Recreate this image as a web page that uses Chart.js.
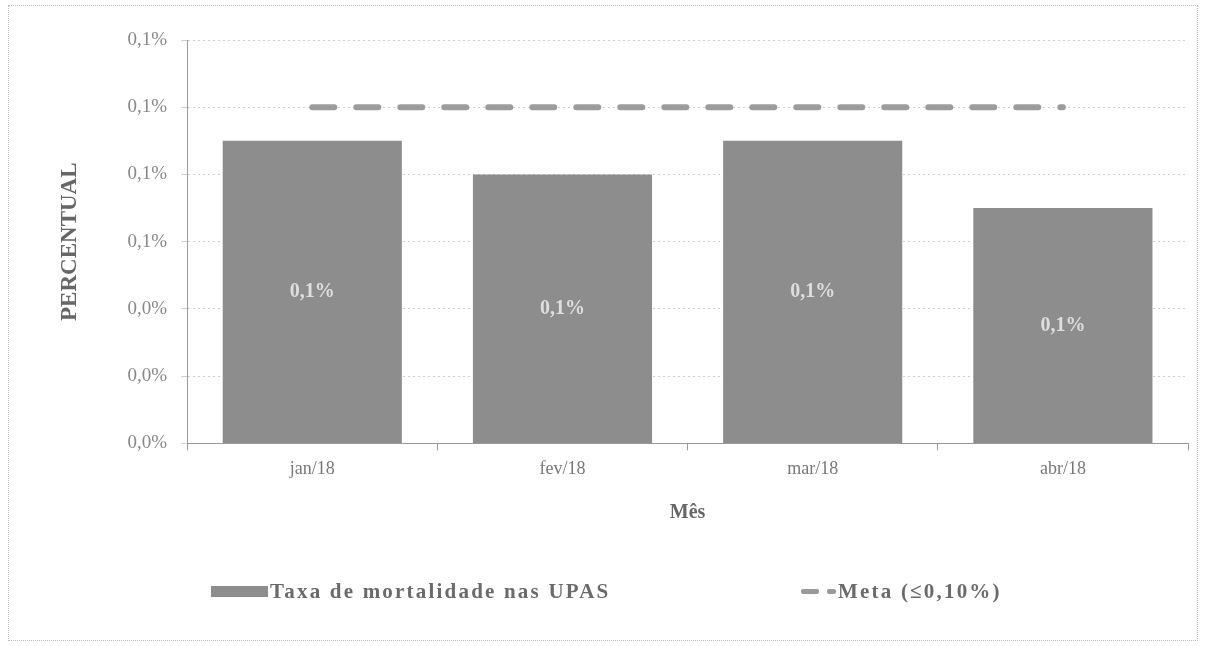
<!DOCTYPE html>
<html>
<head>
<meta charset="utf-8">
<script src="https://cdn.jsdelivr.net/npm/chart.js@4.4.1/dist/chart.umd.min.js"></script>
<style>
  html, body { margin: 0; padding: 0; background: #fff; }
  #wrap { position: relative; width: 1207px; height: 646px; }
  #frame { position: absolute; left: 8px; top: 5px; width: 1190px; height: 636px; border: 1px dotted #bbb; box-sizing: border-box; }
  #myChart { position: absolute; left: 0; top: 0; }
  .legend { position: absolute; top: 579px; font: bold 21px "Liberation Serif", serif; letter-spacing: 2.2px; color: #6a6a6a; display: flex; align-items: center; }
  .box { display: inline-block; width: 57px; height: 11px; background: #8d8d8d; margin-right: 2px; }
  .dash { display: inline-block; width: 18px; height: 5px; background: #9a9a9a; border-radius: 2px; margin-right: 8px; }
</style>
</head>
<body>
<div id="wrap">
  <div id="frame"></div>
  <canvas id="myChart" width="1207" height="646"></canvas>
  <div class="legend" style="left:211px"><span class="box"></span>Taxa de mortalidade nas UPAS</div>
  <div class="legend" style="left:801px"><span class="dash"></span><span class="dash" style="width:9px;margin-right:2px"></span>Meta (≤0,10%)</div>
</div>
<script>
const months = ["jan/18", "fev/18", "mar/18", "abr/18"];
const taxaMortalidade = [0.090, 0.080, 0.090, 0.070];
const meta = [0.10, 0.10, 0.10, 0.10];
const yTicks = [0, 0.02, 0.04, 0.06, 0.08, 0.10, 0.12];

function fmtPct(v) {
  return v.toFixed(1).replace(".", ",") + "%";
}

const barLabels = {
  id: "barLabels",
  afterDatasetsDraw(chart) {
    const ctx = chart.ctx;
    const bars = chart.getDatasetMeta(0);
    ctx.save();
    ctx.font = "bold 20px 'Liberation Serif', serif";
    ctx.fillStyle = "#dedede";
    ctx.textAlign = "center";
    ctx.textBaseline = "middle";
    bars.data.forEach((bar, i) => {
      const mid = (bar.y + bar.base) / 2;
      ctx.fillText(fmtPct(taxaMortalidade[i]), bar.x, mid);
    });
    ctx.restore();
  },
};

const ctx = document.getElementById("myChart");
new Chart(ctx, {
  type: "bar",
  data: {
    labels: months,
    datasets: [
      {
        label: "Taxa de mortalidade nas UPAS",
        data: taxaMortalidade,
        backgroundColor: "#8d8d8d",
        barPercentage: 0.716,
        categoryPercentage: 1.0,
        grouped: false,
        order: 2,
      },
      {
        type: "line",
        label: "Meta (≤0,10%)",
        data: meta,
        borderColor: "#9c9c9c",
        borderWidth: 6,
        borderDash: [22, 22],
        borderCapStyle: "round",
        pointRadius: 0,
        fill: false,
        order: 1,
      },
    ],
  },
  options: {
    responsive: false,
    animation: false,
    layout: {
      padding: { left: 56, right: 19, top: 40, bottom: 121 },
    },
    scales: {
      x: {
        type: "category",
        offset: true,
        ticks: {
          color: "#777",
          font: { size: 18, family: "'Liberation Serif', serif" },
          padding: 8,
        },
        grid: {
          drawOnChartArea: false,
          drawTicks: true,
          tickLength: 7,
          color: "#999",
          offset: true,
        },
        border: { color: "#999", width: 1 },
        title: {
          display: true,
          text: "Mês",
          color: "#666",
          font: { size: 20, weight: "bold", family: "'Liberation Serif', serif" },
          padding: { top: 13, bottom: 0 },
        },
      },
      y: {
        min: 0,
        max: 0.12,
        afterBuildTicks: (axis) => {
          axis.ticks = yTicks.map((v) => ({ value: v }));
        },
        ticks: {
          callback: (value) => fmtPct(value),
          color: "#888",
          font: { size: 19, family: "'Liberation Serif', serif" },
          padding: 14,
        },
        grid: {
          color: "#cfcfcf",
          tickLength: 6,
        },
        border: { color: "#999", width: 1, dash: [2, 3] },
        title: {
          display: true,
          text: "PERCENTUAL",
          color: "#666",
          font: { size: 23, weight: "bold", family: "'Liberation Serif', serif" },
          padding: { top: 0, bottom: 30 },
        },
      },
    },
    plugins: {
      legend: { display: false },
      tooltip: { enabled: false },
    },
  },
  plugins: [barLabels],
});
</script>
</body>
</html>
